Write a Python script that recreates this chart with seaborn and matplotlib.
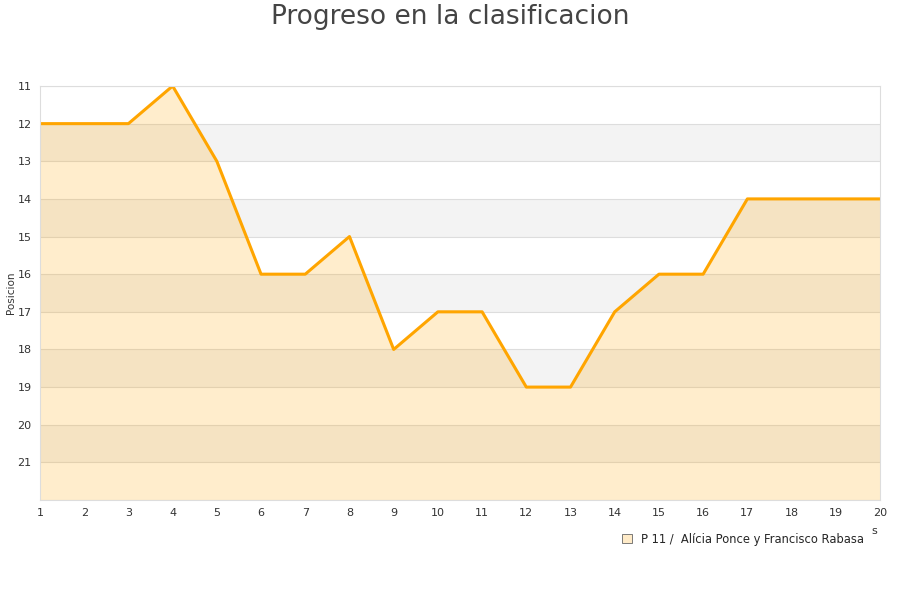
import matplotlib
matplotlib.use("Agg")
import matplotlib.pyplot as plt
import seaborn as sns
import pandas as pd

jornadas = list(range(1, 21))
posiciones = [12, 12, 12, 11, 13, 16, 16, 15, 18, 17, 17, 19, 19, 17, 16, 16, 14, 14, 14, 14]
serie = "P 11 /  Alícia Ponce y Francisco Rabasa"
y_ticks = list(range(11, 22))

sns.set_theme(style="white")
plt.rcParams['font.family'] = ['DejaVu Sans']

df = pd.DataFrame({"Jornada": jornadas, "Posicion": posiciones})

fig = plt.figure(figsize=(9, 6), dpi=100)
ax = fig.add_axes([40/900, 100/600, 840/900, 414/600])

ymin, ymax = 11, 22
# alternating bands
for i in range(ymin, ymax):
    if (i - ymin) % 2 == 1:
        ax.axhspan(i, i + 1, color="#f3f3f3", zorder=0, lw=0)
for i in range(ymin, ymax + 1):
    ax.axhline(i, color="#dddddd", lw=0.8, zorder=0.5)

ax.fill_between(df["Jornada"], df["Posicion"], ymax, color="#ffa500", alpha=0.2, lw=0, zorder=1)
sns.lineplot(data=df, x="Jornada", y="Posicion", ax=ax, color="#ffa500", lw=2.2, zorder=2, legend=False)

ax.set_xlim(1, 20)
ax.set_ylim(ymax, ymin)
ax.set_xticks(jornadas)
ax.set_yticks(y_ticks)
ax.tick_params(axis="both", labelsize=8, colors="#333333", length=0, pad=6)
for s in ax.spines.values():
    s.set_color("#dddddd")
    s.set_linewidth(0.8)
ax.set_ylabel("")
ax.set_xlabel("")
fig.text(11/900, 1 - 293/600, "Posicion", fontsize=7.5, color="#333333", rotation=90,
         ha="center", va="center")

fig.text(877/900, 1 - 531/600, "s", fontsize=8, color="#333333", ha="right", va="center")
fig.suptitle("Progreso en la clasificacion", fontsize=19, color="#444444", y=1 - 17/600, va="center")

from matplotlib.patches import Patch
h = Patch(facecolor="#ffebc8", edgecolor="#666666", lw=0.6)
leg = fig.legend([h], [serie], loc="center right", bbox_to_anchor=(872/900, 1 - 539/600),
                 frameon=False, fontsize=8.3, handlelength=0.8, handleheight=0.8,
                 borderpad=0.2, handletextpad=0.8)

fig.savefig("out.png", dpi=100, facecolor="white")
